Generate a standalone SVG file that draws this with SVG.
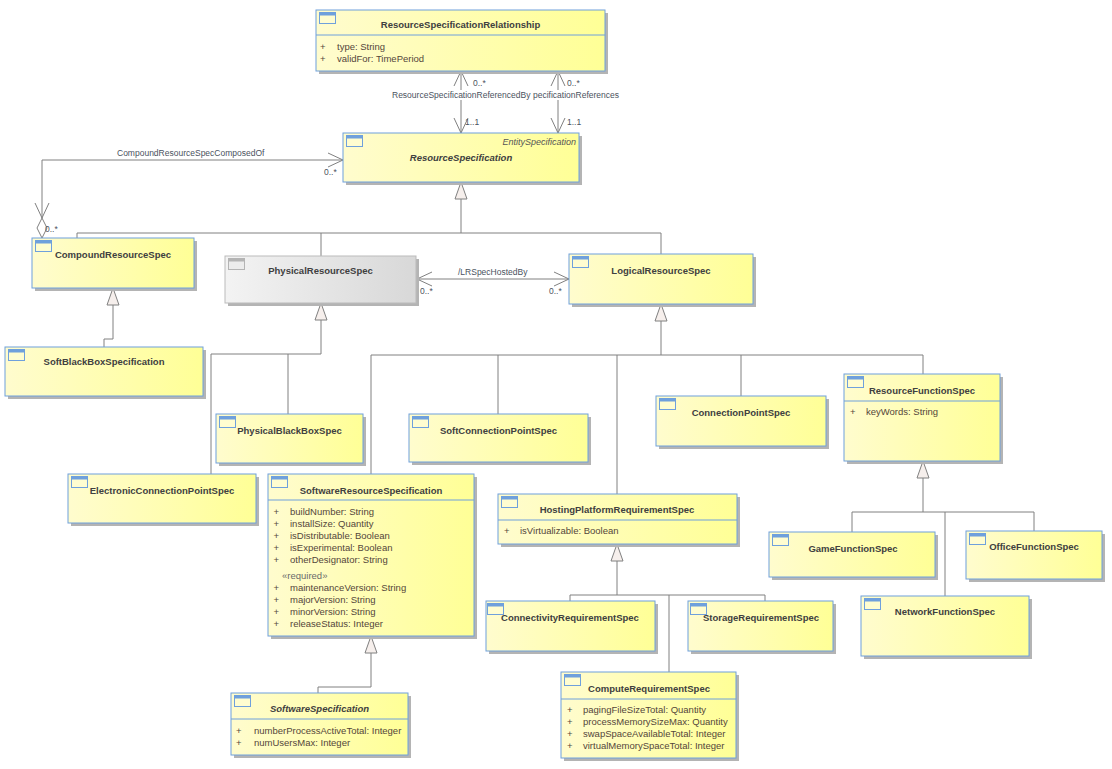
<svg xmlns="http://www.w3.org/2000/svg" width="1112" height="769" viewBox="0 0 1112 769">
<defs>
<linearGradient id="yel" x1="0" y1="0" x2="1" y2="0"><stop offset="0" stop-color="#fffcce"/><stop offset="1" stop-color="#ffff96"/></linearGradient>
<linearGradient id="gry" x1="0" y1="0" x2="1" y2="0"><stop offset="0" stop-color="#f3f3f3"/><stop offset="1" stop-color="#d8d8d8"/></linearGradient>
</defs>
<style>
.sh{fill:#b4b4b4}
.bx{fill:url(#yel);stroke:#6fa0dc;stroke-width:1}
.bxg{fill:url(#gry);stroke:#bbbbbb;stroke-width:1}
.dv{stroke:#6fa0dc;stroke-width:1}
.ic{fill:#fffdd0;stroke:#6fa0dc;stroke-width:1}
.icb{fill:#6fa0dc}
.icg{fill:#ececec;stroke:#b4b4b4;stroke-width:1}
.icgb{fill:#b4b4b4}
.t{font-family:"Liberation Sans",Arial,sans-serif;font-size:9.5px;font-weight:bold;fill:#404040;text-anchor:middle}
.ti{font-style:italic}
.a{font-family:"Liberation Sans",Arial,sans-serif;font-size:9.5px;fill:#54463a}
.st{font-family:"Liberation Sans",Arial,sans-serif;font-size:9.5px;fill:#6a6a6a}
.es{font-family:"Liberation Sans",Arial,sans-serif;font-size:9px;font-style:italic;fill:#555;text-anchor:end}
.l{font-family:"Liberation Sans",Arial,sans-serif;font-size:8.5px;fill:#4a5260}
.ln{fill:none;stroke:#808080;stroke-width:1}
.tri{fill:#f6efec;stroke:#808080;stroke-width:1}
.dia{fill:#ffffff;stroke:#808080;stroke-width:1}
</style>

<g id="connectors">
<path class="ln" d="M461,199 V233 M77,233 H661 M77,233 V238 M321,233 V256 M661,233 V254"/>
<polygon class="tri" points="461,182 455,199 467,199"/>
<path class="ln" d="M113,305 V339 H104 V347"/>
<polygon class="tri" points="113,288 107,305 119,305"/>
<path class="ln" d="M321,320 V354 H211 V474 M288,354 V414"/>
<polygon class="tri" points="321,303 315,320 327,320"/>
<path class="ln" d="M661,321 V355 M371,355 H923 M371,355 V474 M498,355 V414 M617,355 V494 M741,355 V396 M923,355 V374"/>
<polygon class="tri" points="661,304 655,321 667,321"/>
<path class="ln" d="M371,653 V687 H318 V693"/>
<polygon class="tri" points="371,636 365,653 377,653"/>
<path class="ln" d="M617,561 V595 M570,595 H765 M570,595 V601 M765,595 V601 M669,595 V672"/>
<polygon class="tri" points="617,544 611,561 623,561"/>
<path class="ln" d="M923,478 V512 M852,512 H1034 M852,512 V532 M945,512 V596 M1034,512 V531"/>
<polygon class="tri" points="923,461 917,478 929,478"/>
<path class="ln" d="M461,71 V133 M454,86 L461,71 L468,86 M454,118 L461,133 L468,118"/>
<path class="ln" d="M558,71 V133 M551,86 L558,71 L565,86 M551,118 L558,133 L565,118"/>
<rect x="391" y="90" width="234" height="10" fill="#ffffff"/>
<text class="l" x="473" y="86">0..*</text>
<text class="l" x="465" y="125">1..1</text>
<text class="l" x="567" y="86">0..*</text>
<text class="l" x="567" y="125">1..1</text>
<text class="l" x="392" y="97.5">ResourceSpecificationReferencedBy</text>
<text class="l" x="533" y="97.5" font-size="8.8">pecificationReferences</text>
<path class="ln" d="M343,160 H42 V218 M328,153 L343,160 L328,167 M35,203 L42,218 L49,203"/>
<polygon class="dia" points="42,218 47,228 42,238 37,228"/>
<text class="l" x="117" y="156">CompoundResourceSpecComposedOf</text>
<text class="l" x="324" y="175">0..*</text>
<text class="l" x="45" y="232">0..*</text>
<path class="ln" d="M417,279 H569 M432,272 L417,279 L432,286 M554,272 L569,279 L554,286"/>
<text class="l" x="458" y="275">/LRSpecHostedBy</text>
<text class="l" x="420" y="294">0..*</text>
<text class="l" x="549" y="294">0..*</text>
</g>

<g id="ResourceSpecificationRelationship">
<rect class="sh" x="319" y="13" width="289" height="61"/>
<rect class="bx" x="316" y="10" width="289" height="61"/>
<line class="dv" x1="316" y1="35" x2="605" y2="35"/>
<rect class="ic" x="319.5" y="12.5" width="16" height="11"/><rect class="icb" x="319.5" y="12.5" width="16" height="3"/>
<text class="t" x="460.5" y="28">ResourceSpecificationRelationship</text>
<text class="a" x="320" y="49.5">+</text><text class="a" x="337" y="49.5">type: String</text>
<text class="a" x="320" y="61.5">+</text><text class="a" x="337" y="61.5">validFor: TimePeriod</text>
</g>

<g id="ResourceSpecification">
<rect class="sh" x="346" y="136" width="236" height="49"/>
<rect class="bx" x="343" y="133" width="236" height="49"/>
<rect class="ic" x="346.5" y="135.5" width="16" height="11"/><rect class="icb" x="346.5" y="135.5" width="16" height="3"/>
<text class="es" x="576" y="145">EntitySpecification</text>
<text class="t ti" x="461" y="160.5">ResourceSpecification</text>
</g>

<g id="CompoundResourceSpec">
<rect class="sh" x="35" y="241" width="162" height="50"/>
<rect class="bx" x="32" y="238" width="162" height="50"/>
<rect class="ic" x="35.5" y="240.5" width="16" height="11"/><rect class="icb" x="35.5" y="240.5" width="16" height="3"/>
<text class="t" x="113" y="257.5">CompoundResourceSpec</text>
</g>

<g id="PhysicalResourceSpec">
<rect class="sh" x="228" y="259" width="191" height="47"/>
<rect class="bxg" x="225" y="256" width="191" height="47"/>
<rect class="icg" x="228.5" y="258.5" width="16" height="11"/><rect class="icgb" x="228.5" y="258.5" width="16" height="3"/>
<text class="t" x="320.5" y="273.5">PhysicalResourceSpec</text>
</g>

<g id="LogicalResourceSpec">
<rect class="sh" x="572" y="257" width="184" height="50"/>
<rect class="bx" x="569" y="254" width="184" height="50"/>
<rect class="ic" x="572.5" y="256.5" width="16" height="11"/><rect class="icb" x="572.5" y="256.5" width="16" height="3"/>
<text class="t" x="661" y="273.5">LogicalResourceSpec</text>
</g>

<g id="SoftBlackBoxSpecification">
<rect class="sh" x="8" y="350" width="198" height="49"/>
<rect class="bx" x="5" y="347" width="198" height="49"/>
<rect class="ic" x="8.5" y="349.5" width="16" height="11"/><rect class="icb" x="8.5" y="349.5" width="16" height="3"/>
<text class="t" x="104" y="364.5">SoftBlackBoxSpecification</text>
</g>

<g id="PhysicalBlackBoxSpec">
<rect class="sh" x="219" y="417" width="147" height="49"/>
<rect class="bx" x="216" y="414" width="147" height="49"/>
<rect class="ic" x="219.5" y="416.5" width="16" height="11"/><rect class="icb" x="219.5" y="416.5" width="16" height="3"/>
<text class="t" x="289.5" y="433.5">PhysicalBlackBoxSpec</text>
</g>

<g id="SoftConnectionPointSpec">
<rect class="sh" x="412" y="417" width="179" height="48"/>
<rect class="bx" x="409" y="414" width="179" height="48"/>
<rect class="ic" x="412.5" y="416.5" width="16" height="11"/><rect class="icb" x="412.5" y="416.5" width="16" height="3"/>
<text class="t" x="498.5" y="433.5">SoftConnectionPointSpec</text>
</g>

<g id="ConnectionPointSpec">
<rect class="sh" x="659" y="399" width="170" height="50"/>
<rect class="bx" x="656" y="396" width="170" height="50"/>
<rect class="ic" x="659.5" y="398.5" width="16" height="11"/><rect class="icb" x="659.5" y="398.5" width="16" height="3"/>
<text class="t" x="741" y="415.5">ConnectionPointSpec</text>
</g>

<g id="ResourceFunctionSpec">
<rect class="sh" x="847" y="377" width="156" height="87"/>
<rect class="bx" x="844" y="374" width="156" height="87"/>
<line class="dv" x1="844" y1="401" x2="1000" y2="401"/>
<rect class="ic" x="847.5" y="376.5" width="16" height="11"/><rect class="icb" x="847.5" y="376.5" width="16" height="3"/>
<text class="t" x="922" y="393.5">ResourceFunctionSpec</text>
<text class="a" x="850" y="414.5">+</text><text class="a" x="866" y="414.5">keyWords: String</text>
</g>

<g id="ElectronicConnectionPointSpec">
<rect class="sh" x="71" y="477" width="188" height="49"/>
<rect class="bx" x="68" y="474" width="188" height="49"/>
<rect class="ic" x="71.5" y="476.5" width="16" height="11"/><rect class="icb" x="71.5" y="476.5" width="16" height="3"/>
<text class="t" x="162" y="493.5">ElectronicConnectionPointSpec</text>
</g>

<g id="SoftwareResourceSpecification">
<rect class="sh" x="271" y="477" width="206" height="162"/>
<rect class="bx" x="268" y="474" width="206" height="162"/>
<line class="dv" x1="268" y1="500" x2="474" y2="500"/>
<rect class="ic" x="271.5" y="476.5" width="16" height="11"/><rect class="icb" x="271.5" y="476.5" width="16" height="3"/>
<text class="t" x="371" y="493.5">SoftwareResourceSpecification</text>
<text class="a" x="273.5" y="514.5">+</text><text class="a" x="290" y="514.5">buildNumber: String</text>
<text class="a" x="273.5" y="526.5">+</text><text class="a" x="290" y="526.5">installSize: Quantity</text>
<text class="a" x="273.5" y="538.5">+</text><text class="a" x="290" y="538.5">isDistributable: Boolean</text>
<text class="a" x="273.5" y="550.5">+</text><text class="a" x="290" y="550.5">isExperimental: Boolean</text>
<text class="a" x="273.5" y="562.5">+</text><text class="a" x="290" y="562.5">otherDesignator: String</text>
<text class="st" x="282" y="578.5">«required»</text>
<text class="a" x="273.5" y="590.5">+</text><text class="a" x="290" y="590.5">maintenanceVersion: String</text>
<text class="a" x="273.5" y="602.5">+</text><text class="a" x="290" y="602.5">majorVersion: String</text>
<text class="a" x="273.5" y="614.5">+</text><text class="a" x="290" y="614.5">minorVersion: String</text>
<text class="a" x="273.5" y="626.5">+</text><text class="a" x="290" y="626.5">releaseStatus: Integer</text>
</g>

<g id="HostingPlatformRequirementSpec">
<rect class="sh" x="501" y="497" width="239" height="50"/>
<rect class="bx" x="498" y="494" width="239" height="50"/>
<line class="dv" x1="498" y1="520" x2="737" y2="520"/>
<rect class="ic" x="501.5" y="496.5" width="16" height="11"/><rect class="icb" x="501.5" y="496.5" width="16" height="3"/>
<text class="t" x="617" y="513">HostingPlatformRequirementSpec</text>
<text class="a" x="504" y="534">+</text><text class="a" x="520" y="534">isVirtualizable: Boolean</text>
</g>

<g id="GameFunctionSpec">
<rect class="sh" x="772" y="535" width="166" height="45"/>
<rect class="bx" x="769" y="532" width="166" height="45"/>
<rect class="ic" x="772.5" y="534.5" width="16" height="11"/><rect class="icb" x="772.5" y="534.5" width="16" height="3"/>
<text class="t" x="853" y="551.5">GameFunctionSpec</text>
</g>

<g id="OfficeFunctionSpec">
<rect class="sh" x="969" y="534" width="136" height="48"/>
<rect class="bx" x="966" y="531" width="136" height="48"/>
<rect class="ic" x="969.5" y="533.5" width="16" height="11"/><rect class="icb" x="969.5" y="533.5" width="16" height="3"/>
<text class="t" x="1034" y="549.5">OfficeFunctionSpec</text>
</g>

<g id="ConnectivityRequirementSpec">
<rect class="sh" x="489" y="604" width="169" height="50"/>
<rect class="bx" x="486" y="601" width="169" height="50"/>
<rect class="ic" x="487.5" y="603.5" width="16" height="11"/><rect class="icb" x="487.5" y="603.5" width="16" height="3"/>
<text class="t" x="570" y="620.5">ConnectivityRequirementSpec</text>
</g>

<g id="StorageRequirementSpec">
<rect class="sh" x="691" y="604" width="145" height="50"/>
<rect class="bx" x="688" y="601" width="145" height="50"/>
<rect class="ic" x="690.5" y="603.5" width="16" height="11"/><rect class="icb" x="690.5" y="603.5" width="16" height="3"/>
<text class="t" x="761" y="620.5">StorageRequirementSpec</text>
</g>

<g id="NetworkFunctionSpec">
<rect class="sh" x="864" y="599" width="168" height="60"/>
<rect class="bx" x="861" y="596" width="168" height="60"/>
<rect class="ic" x="864.5" y="598.5" width="16" height="11"/><rect class="icb" x="864.5" y="598.5" width="16" height="3"/>
<text class="t" x="945" y="614.5">NetworkFunctionSpec</text>
</g>

<g id="SoftwareSpecification">
<rect class="sh" x="234" y="696" width="177" height="62"/>
<rect class="bx" x="231" y="693" width="177" height="62"/>
<line class="dv" x1="231" y1="719" x2="408" y2="719"/>
<rect class="ic" x="234.5" y="695.5" width="16" height="11"/><rect class="icb" x="234.5" y="695.5" width="16" height="3"/>
<text class="t ti" x="319.5" y="712">SoftwareSpecification</text>
<text class="a" x="236" y="733.5">+</text><text class="a" x="254" y="733.5">numberProcessActiveTotal: Integer</text>
<text class="a" x="236" y="745.5">+</text><text class="a" x="254" y="745.5">numUsersMax: Integer</text>
</g>

<g id="ComputeRequirementSpec">
<rect class="sh" x="564" y="675" width="175" height="86"/>
<rect class="bx" x="561" y="672" width="175" height="86"/>
<line class="dv" x1="561" y1="699" x2="736" y2="699"/>
<rect class="ic" x="564.5" y="674.5" width="16" height="11"/><rect class="icb" x="564.5" y="674.5" width="16" height="3"/>
<text class="t" x="649" y="691.5">ComputeRequirementSpec</text>
<text class="a" x="567" y="713">+</text><text class="a" x="583" y="713">pagingFileSizeTotal: Quantity</text>
<text class="a" x="567" y="724.5">+</text><text class="a" x="583" y="724.5">processMemorySizeMax: Quantity</text>
<text class="a" x="567" y="736.5">+</text><text class="a" x="583" y="736.5">swapSpaceAvailableTotal: Integer</text>
<text class="a" x="567" y="748.5">+</text><text class="a" x="583" y="748.5">virtualMemorySpaceTotal: Integer</text>
</g>
</svg>
